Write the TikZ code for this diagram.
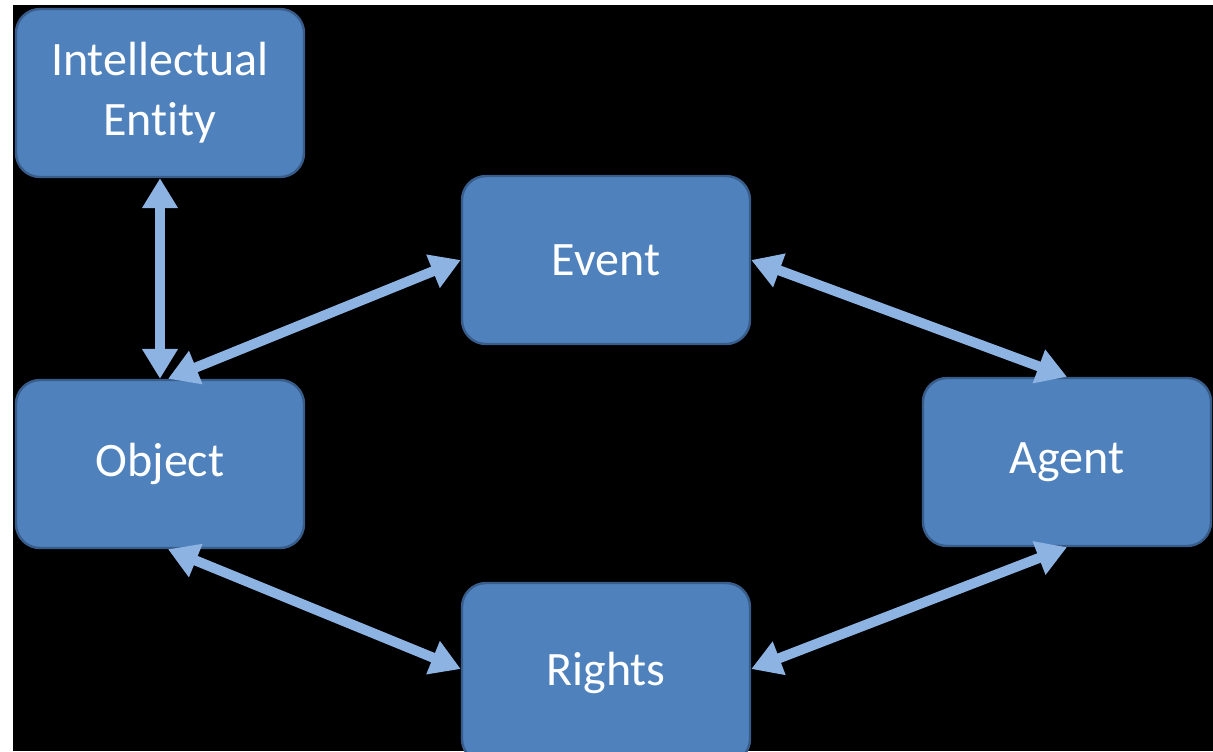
\documentclass[tikz,border=0pt]{standalone}
\usepackage{fontspec}
\setmainfont{Carlito}[Ligatures=NoCommon]
\usepackage{tikz}
\usetikzlibrary{arrows.meta}
\definecolor{boxfill}{HTML}{4F81BD}
\definecolor{boxline}{HTML}{385D8A}
\definecolor{linkblue}{HTML}{8DB3E2}
\tikzset{
    entity-box/.style = {draw=boxline, fill=boxfill, line width=1.2pt, rectangle, rounded corners=12pt,
        minimum width=144pt, minimum height=84pt, text=white, align=center,
        font=\fontsize{24}{30}\selectfont},
    link-arrow/.style = {draw=linkblue, line width=5pt,
        {Triangle[width=17pt,length=15pt]}-{Triangle[width=17pt,length=15pt]}},
}

\begin{document}
\begin{tikzpicture}[x=0.5pt,y=-0.5pt]
\fill[white] (0,0) rectangle (1213,751);
\fill[black] (13,5) rectangle (1213,751);
\useasboundingbox (0,0) rectangle (1213,751);
\begin{scope}
\clip (13,5) rectangle (1213,751);
\node[entity-box] (entity) at (160,93) {Intellectual\\Entity};
\node[entity-box] (event) at (606,260) {Event};
\node[entity-box] (object) at (160,464) {Object};
\node[entity-box] (agent) at (1067,462) {Agent};
\node[entity-box, minimum height=90pt] (rights) at (606,673) {\raisebox{4pt}{Rights}};
\end{scope}
\draw[link-arrow] (entity.south) -- (object.north);
\draw[link-arrow] ([xshift=4pt]object.north) -- (event.west);
\draw[link-arrow] (event.east) -- (agent.north);
\draw[link-arrow] (agent.south) -- ([yshift=2pt]rights.east);
\draw[link-arrow] ([xshift=4pt]object.south) -- ([yshift=2pt]rights.west);
\end{tikzpicture}
\end{document}
